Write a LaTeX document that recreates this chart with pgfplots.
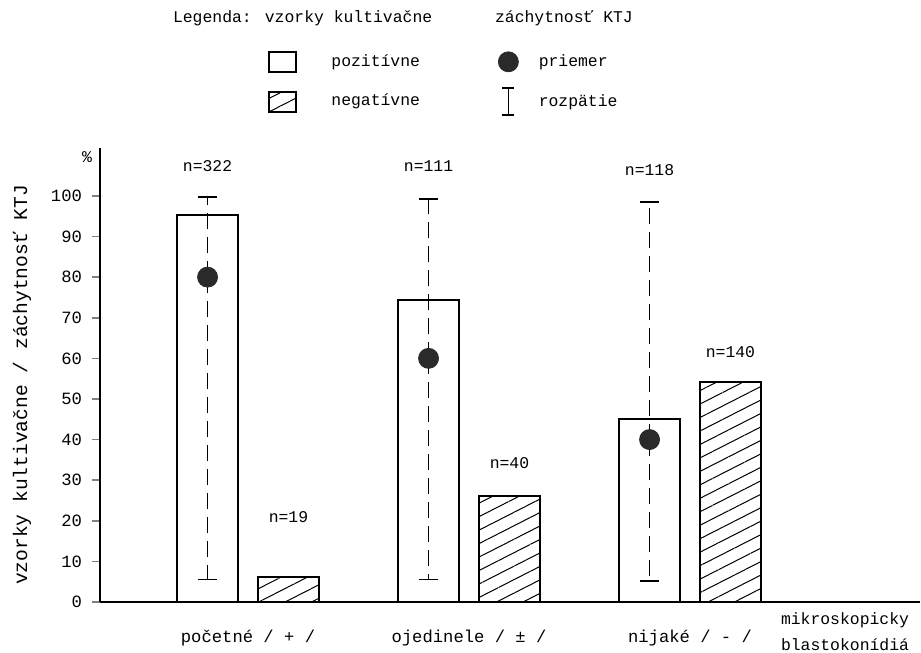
\documentclass[border=0pt]{standalone}
\usepackage{pgfplots}
\pgfplotsset{compat=1.18}
\usetikzlibrary{patterns.meta}
\usepackage{fontspec}
\setmainfont{Liberation Mono}
\definecolor{ink}{HTML}{2A2A2A}
\tikzset{hatch/.style={pattern={Lines[angle=27,distance=6pt,line width=0.5pt]}}}
\begin{document}
\begin{tikzpicture}[font=\fontsize{8.2pt}{10pt}\selectfont]
\useasboundingbox (-50pt,-25.5pt) rectangle (410.5pt,301pt);
\begin{axis}[
  at={(0pt,0pt)}, anchor=south west,
  scale only axis, width=410pt, height=227pt,
  xmin=0.3303, xmax=4.0407, ymin=0, ymax=111.8,
  axis lines=left,
  axis line style={-, line width=0.8pt},
  xtick={1,2,3},
  xticklabels={{početné / + /},{ojedinele / ± /},{nijaké / - /}},
  x tick style={draw=none},
  xticklabel style={yshift=-6.5pt},
  ytick={0,10,...,100},
  tick align=outside,
  major tick length=4pt,
  y tick style={line width=0.8pt},
  ticklabel style={font=\fontsize{8.6pt}{10pt}\selectfont},
  yticklabel style={xshift=-1.5pt},
  /pgf/number format/assume math mode=true,
  ylabel={vzorky kultivačne / záchytnosť KTJ},
  ylabel style={at={(axis description cs:-0.0951,0.478)}, anchor=center, font=\fontsize{9.8pt}{11pt}\selectfont},
  clip=false,
  legend columns=2,
  legend cell align=left,
  legend style={at={(axis description cs:0.2049,1.2159)}, anchor=north west,
    draw=none, fill=none, inner sep=0pt, row sep=7pt,
    font=\fontsize{8.2pt}{10pt}\selectfont,
    /tikz/column 1/.style={column sep=15pt},
    /tikz/column 2/.style={column sep=37pt},
    /tikz/column 3/.style={column sep=8pt}},
]
% legend
\addlegendimage{legend image code/.code={\draw[line width=1pt] (0pt,-5pt) rectangle (13.5pt,5pt);}}
\addlegendentry{pozitívne}
\addlegendimage{legend image code/.code={\fill[ink] (6.75pt,0pt) circle (5pt);}}
\addlegendentry{priemer}
\addlegendimage{legend image code/.code={\draw[line width=1pt,hatch] (0pt,-5pt) rectangle (13.5pt,5pt);}}
\addlegendentry{negatívne}
\addlegendimage{legend image code/.code={\draw[line width=0.8pt] (6.75pt,-6.75pt)--(6.75pt,6.75pt) (3.75pt,6.75pt)--(9.75pt,6.75pt) (3.75pt,-6.75pt)--(9.75pt,-6.75pt);}}
\addlegendentry{rozpätie}
% positive bars
\addplot[ybar, bar width=30.5pt, bar shift=0pt, draw=black, line width=1pt, fill=white, forget plot]
  coordinates {(0.817,95.3) (1.817,74.4) (2.817,45.0)};
% negative bars
\addplot[ybar, bar width=30.5pt, bar shift=0pt, draw=black, line width=1pt, hatch, forget plot]
  coordinates {(1.183,6.1) (2.183,26.0) (3.183,54.2)};
% means with range
\addplot[only marks, mark=*, mark size=5pt, color=ink, forget plot,
  error bars/.cd, y dir=both, y explicit,
  error bar style={line width=0.7pt, dash pattern=on 8pt off 4pt, black},
  error mark=-, error mark options={rotate=90, solid, mark size=4.75pt, line width=0.8pt, black}]
  coordinates {
    (0.817,80) += (0,19.7) -= (0,74.5)
    (1.817,60) += (0,39.2) -= (0,54.5)
    (2.817,40) += (0,58.5) -= (0,34.8)
  };
% n labels
\node at (axis cs:0.817,107.4) {n=322};
\node at (axis cs:1.183,21.0) {n=19};
\node at (axis cs:1.817,107.4) {n=111};
\node at (axis cs:2.183,34.2) {n=40};
\node at (axis cs:2.817,106.4) {n=118};
\node at (axis cs:3.183,61.6) {n=140};
\end{axis}
\node at (-6.5pt,222.5pt) {\%};
\node[anchor=west] at (33pt,292pt) {Legenda: vzorky kultivačne};
\node[anchor=west] at (194pt,292pt) {záchytnosť KTJ};
\node at (372.5pt,-9pt) {mikroskopicky};
\node at (372.5pt,-21.5pt) {blastokonídiá};
\end{tikzpicture}
\end{document}
